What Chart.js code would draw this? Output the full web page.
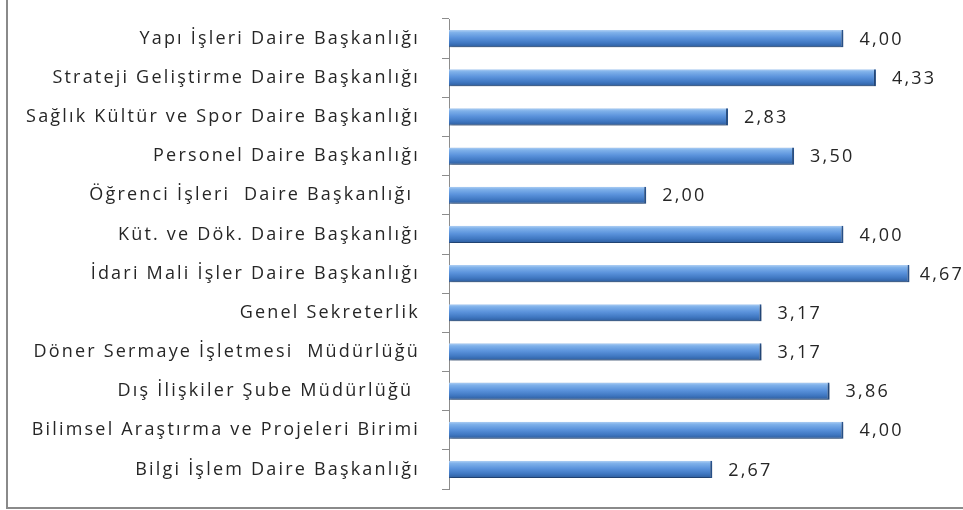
<!DOCTYPE html>
<html>
<head>
<meta charset="utf-8">
<script src="https://cdn.jsdelivr.net/npm/chart.js@4"></script>
<style>
  html, body { margin: 0; padding: 0; background: #fff; }
  #wrap { position: relative; width: 963px; height: 510px; }
  #frame {
    position: absolute; left: 6px; top: 0; width: 957px; height: 507px;
    border-left: 2px solid #8a8a8a; border-bottom: 2px solid #8a8a8a;
    pointer-events: none;
  }
</style>
</head>
<body>
<div id="wrap">
  <canvas id="chart" width="963" height="510"></canvas>
  <div id="frame"></div>
</div>
<script>
// Units, top to bottom as in the picture
const units = [
  "Yapı İşleri Daire Başkanlığı",
  "Strateji Geliştirme Daire Başkanlığı",
  "Sağlık Kültür ve Spor Daire Başkanlığı",
  "Personel Daire Başkanlığı",
  "Öğrenci İşleri  Daire Başkanlığı ",
  "Küt. ve Dök. Daire Başkanlığı",
  "İdari Mali İşler Daire Başkanlığı",
  "Genel Sekreterlik",
  "Döner Sermaye İşletmesi  Müdürlüğü",
  "Dış İlişkiler Şube Müdürlüğü ",
  "Bilimsel Araştırma ve Projeleri Birimi",
  "Bilgi İşlem Daire Başkanlığı"
];
const scores = [4.00, 4.33, 2.83, 3.50, 2.00, 4.00, 4.67, 3.17, 3.17, 3.86, 4.00, 2.67];

const FONT = "'Open Sans', sans-serif";
const SPACING = "2.2px";   // the original text is drawn wide
const BAR_PCT = 0.44;

// vertical gradient for each bar, from the bar's slot on the y scale
function barFill(ctx) {
  const chart = ctx.chart;
  const ys = chart.scales.y;
  if (!ys || !chart.chartArea) return "#4a86d0";
  const yc = ys.getPixelForValue(ctx.dataIndex);
  const h = (chart.chartArea.height / units.length) * BAR_PCT;
  if (!isFinite(yc) || !isFinite(h)) return "#4a86d0";
  const g = chart.ctx.createLinearGradient(0, yc - h / 2, 0, yc + h / 2);
  g.addColorStop(0, "#b0d0f4");
  g.addColorStop(0.15, "#7fb1ea");
  g.addColorStop(0.45, "#5b93dc");
  g.addColorStop(0.75, "#4078c2");
  g.addColorStop(1, "#2d5c9c");
  return g;
}

// wide text for the whole canvas
const spacingPlugin = {
  id: "spacing",
  beforeDraw(chart) { chart.ctx.letterSpacing = SPACING; }
};

// soft shadow under the bars
const shadowPlugin = {
  id: "barShadow",
  beforeDatasetsDraw(chart) {
    const c = chart.ctx;
    c.save();
    c.shadowColor = "rgba(0,0,0,0.3)";
    c.shadowOffsetX = 1;
    c.shadowOffsetY = 2;
    c.shadowBlur = 3;
  },
  afterDatasetsDraw(chart) {
    chart.ctx.restore();
  }
};

// value labels at the bar ends, with a comma decimal
const valueLabels = {
  id: "valueLabels",
  afterDatasetsDraw(chart) {
    const c = chart.ctx;
    c.save();
    c.font = "18px " + FONT;
    c.letterSpacing = SPACING;
    c.fillStyle = "#262626";
    c.textBaseline = "middle";
    chart.getDatasetMeta(0).data.forEach((bar, i) => {
      const txt = scores[i].toFixed(2).replace(".", ",");
      const w = c.measureText(txt).width;
      const x = Math.min(bar.x + 16, chart.width - w + 1);
      c.fillText(txt, x, bar.y + 1);
    });
    c.restore();
  }
};

new Chart(document.getElementById("chart"), {
  type: "bar",
  data: {
    labels: units,
    datasets: [{
      data: scores,
      backgroundColor: barFill,
      borderColor: "#2a5590",
      borderWidth: { top: 0, left: 0, bottom: 1, right: 2 },
      borderSkipped: false,
      barPercentage: BAR_PCT,
      categoryPercentage: 1
    }]
  },
  options: {
    indexAxis: "y",
    responsive: false,
    animation: false,
    layout: { padding: { top: 19, right: 21, bottom: 21, left: 0 } },
    plugins: {
      legend: { display: false },
      tooltip: { enabled: false }
    },
    scales: {
      x: {
        display: false,
        min: 0,
        max: 5
      },
      y: {
        border: { display: true, color: "#8c8c8c", width: 1 },
        grid: {
          offset: true,
          drawOnChartArea: false,
          drawTicks: true,
          tickLength: 7,
          color: "#8c8c8c"
        },
        ticks: {
          color: "#262626",
          font: { family: FONT, size: 18 },
          padding: 22
        },
        afterFit(scale) {
          scale.width = 449;
          scale.paddingTop = 0;
          scale.paddingBottom = 0;
        }
      }
    }
  },
  plugins: [spacingPlugin, shadowPlugin, valueLabels]
});
</script>
</body>
</html>
